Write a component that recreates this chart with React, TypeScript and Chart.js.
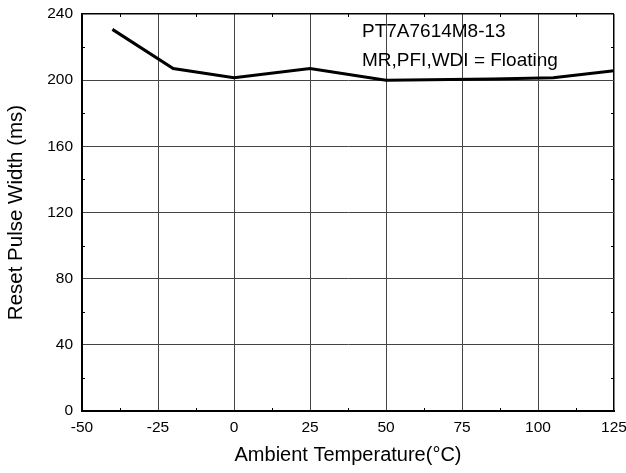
import React, { useEffect, useRef } from "react";
import { Chart, registerables } from "chart.js";

Chart.register(...registerables);

const temperatures = [-40, -20, 0, 25, 50, 85, 105, 125];
const pulseWidthMs = [230.7, 207, 201.5, 207, 200, 200.7, 201.5, 205.7];
const xTicks = [-50, -25, 0, 25, 50, 75, 100, 125];
const yTicks = [0, 40, 80, 120, 160, 200, 240];
const xMinorTicks = [-37.5, -12.5, 12.5, 37.5, 62.5, 87.5, 112.5];
const yMinorTicks = [20, 60, 100, 140, 180, 220];
const annotationLines = ["PT7A7614M8-13", "MR,PFI,WDI = Floating"];
const xTitle = "Ambient Temperature(\u00B0C)";
const yTitle = "Reset Pulse Width (ms)";

const FONT = "Arial, 'Liberation Sans', sans-serif";

const minorTickPlugin = {
  id: "minorTicks",
  afterDraw(chart: any) {
    const { ctx, chartArea, scales } = chart;
    const xs = scales.x;
    const ys = scales.y;
    const len = 3;
    ctx.save();
    ctx.strokeStyle = "#000";
    ctx.lineWidth = 1;
    ctx.beginPath();
    for (const v of xMinorTicks) {
      const px = Math.round(xs.getPixelForValue(v)) + 0.5;
      ctx.moveTo(px, chartArea.bottom);
      ctx.lineTo(px, chartArea.bottom - len);
      ctx.moveTo(px, chartArea.top);
      ctx.lineTo(px, chartArea.top + len);
    }
    for (const v of yMinorTicks) {
      const py = Math.round(ys.getPixelForValue(v)) + 0.5;
      ctx.moveTo(chartArea.left, py);
      ctx.lineTo(chartArea.left + len, py);
      ctx.moveTo(chartArea.right, py);
      ctx.lineTo(chartArea.right - len, py);
    }
    ctx.stroke();
    ctx.restore();
  },
};

const annotationPlugin = {
  id: "noteText",
  afterDraw(chart: any) {
    const { ctx, chartArea } = chart;
    ctx.save();
    ctx.font = `19px ${FONT}`;
    ctx.fillStyle = "#000";
    ctx.textBaseline = "alphabetic";
    ctx.textAlign = "left";
    annotationLines.forEach((t, i) => {
      ctx.fillText(t, chartArea.left + 280, chartArea.top + 23.4 + i * 28.4);
    });
    ctx.restore();
  },
};

export default function App() {
  const ref = useRef<HTMLCanvasElement | null>(null);

  useEffect(() => {
    if (!ref.current) return;
    const chart = new Chart(ref.current, {
      type: "line",
      data: {
        datasets: [
          {
            data: temperatures.map((t, i) => ({ x: t, y: pulseWidthMs[i] })),
            borderColor: "#000",
            borderWidth: 3,
            pointRadius: 0,
            tension: 0,
            fill: false,
          },
        ],
      },
      options: {
        responsive: false,
        animation: false,
        devicePixelRatio: 1,
        layout: { padding: { top: 14, right: 12, left: 0, bottom: 0 } },
        plugins: {
          legend: { display: false },
          tooltip: { enabled: false },
        },
        scales: {
          x: {
            type: "linear",
            min: -50,
            max: 125,
            afterBuildTicks: (scale: any) => {
              scale.ticks = xTicks.map((v) => ({ value: v }));
            },
            afterFit: (scale: any) => {
              scale.height = 62;
              scale.paddingLeft = 0;
              scale.paddingRight = 0;
            },
            ticks: {
              color: "#000",
              font: { family: FONT, size: 15.5 },
              padding: 7,
              maxRotation: 0,
              autoSkip: false,
            },
            grid: {
              drawTicks: false,
              color: (c: any) => (c.tick && c.tick.value === 125 ? "#000" : "#444"),
              lineWidth: (c: any) => (c.tick && c.tick.value === 125 ? 1.5 : 1),
            },
            border: { display: true, color: "#000", width: 2 },
            title: {
              display: true,
              text: xTitle,
              color: "#000",
              font: { family: FONT, size: 20 },
              padding: { top: 0, bottom: 6 },
            },
          },
          y: {
            type: "linear",
            min: 0,
            max: 240,
            afterBuildTicks: (scale: any) => {
              scale.ticks = yTicks.map((v) => ({ value: v }));
            },
            afterFit: (scale: any) => {
              scale.width = 82;
              scale.paddingTop = 0;
              scale.paddingBottom = 0;
            },
            ticks: {
              color: "#000",
              font: { family: FONT, size: 15.5 },
              padding: 9,
              autoSkip: false,
            },
            grid: {
              drawTicks: false,
              color: (c: any) => (c.tick && c.tick.value === 240 ? "#000" : "#444"),
              lineWidth: (c: any) => (c.tick && c.tick.value === 240 ? 1.5 : 1),
            },
            border: { display: true, color: "#000", width: 2 },
            title: {
              display: true,
              text: yTitle,
              color: "#000",
              font: { family: FONT, size: 20.5 },
              padding: { top: 4, bottom: 0 },
            },
          },
        },
      },
      plugins: [minorTickPlugin, annotationPlugin],
    });
    return () => chart.destroy();
  }, []);

  return (
    <div style={{ position: "absolute", left: 0, top: 0, width: 626, height: 473, background: "#fff" }}>
      <canvas ref={ref} width={626} height={473} style={{ display: "block" }} />
    </div>
  );
}
